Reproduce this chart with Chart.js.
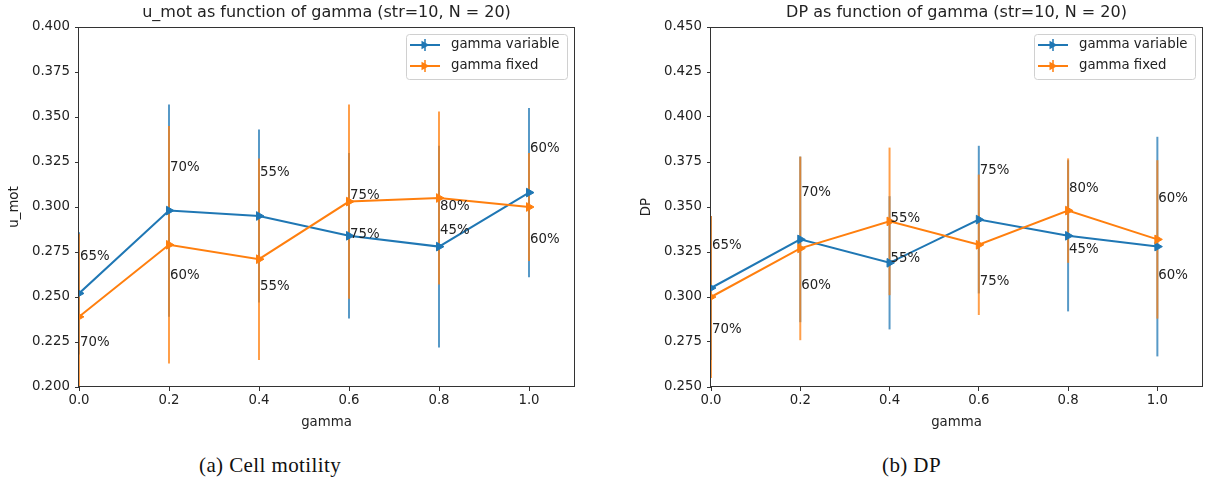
<!DOCTYPE html>
<html><head><meta charset="utf-8">
<script src="https://cdn.jsdelivr.net/npm/chart.js@4.4.1/dist/chart.umd.min.js"></script>
<style>
html,body{margin:0;padding:0;background:#fff;width:1214px;height:487px;overflow:hidden;}
.c{position:absolute;top:0;}
.cap{position:absolute;top:453px;font-family:"Liberation Serif","DejaVu Serif",serif;font-size:21px;letter-spacing:0.4px;color:#111;white-space:nowrap;line-height:24px;}
</style></head><body>
<div class="c" style="left:0px;"><canvas id="a" width="600" height="440"></canvas></div>
<div class="c" style="left:632px;"><canvas id="b" width="582" height="440"></canvas></div>
<div class="cap" style="left:199px">(a) Cell motility</div>
<div class="cap" style="left:882px">(b) DP</div>
<script>
// ---------- data ----------
const gammaValues = [0.0, 0.2, 0.4, 0.6, 0.8, 1.0];
const xTickValues = [0.0, 0.2, 0.4, 0.6, 0.8, 1.0];
const seriesNames = ['gamma variable', 'gamma fixed'];

const motVariable    = [0.252, 0.298, 0.295, 0.284, 0.278, 0.308];
const motVariableErr = [0.034, 0.059, 0.048, 0.046, 0.056, 0.047];
const motFixed       = [0.239, 0.279, 0.271, 0.303, 0.305, 0.300];
const motFixedErr    = [0.046, 0.066, 0.056, 0.054, 0.048, 0.030];
const motYTicks = [0.200, 0.225, 0.250, 0.275, 0.300, 0.325, 0.350, 0.375, 0.400];

const dpVariable    = [0.305, 0.332, 0.319, 0.343, 0.334, 0.328];
const dpVariableErr = [0.040, 0.046, 0.037, 0.041, 0.042, 0.061];
const dpFixed       = [0.300, 0.327, 0.342, 0.329, 0.348, 0.332];
const dpFixedErr    = [0.045, 0.051, 0.041, 0.039, 0.029, 0.044];
const dpYTicks = [0.250, 0.275, 0.300, 0.325, 0.350, 0.375, 0.400, 0.425, 0.450];

// percentage annotations (text and the data y at which they sit)
const motPctUpper  = ['65%', '70%', '55%', '75%', '80%', '60%'];
const motPctUpperY = [0.2724, 0.3220, 0.3193, 0.3063, 0.3002, 0.3326];
const motPctLower  = ['70%', '60%', '55%', '75%', '45%', '60%'];
const motPctLowerY = [0.2246, 0.2622, 0.2557, 0.2848, 0.2872, 0.2819];

const dpPctUpper  = ['65%', '70%', '55%', '75%', '80%', '60%'];
const dpPctUpperY = [0.3285, 0.3580, 0.3437, 0.3700, 0.3600, 0.3546];
const dpPctLower  = ['70%', '60%', '55%', '75%', '45%', '60%'];
const dpPctLowerY = [0.2817, 0.3063, 0.3211, 0.3085, 0.3265, 0.3122];

// ---------- styling ----------
const BLUE = '#1f77b4', ORANGE = '#ff7f0e';
const FONT = '"DejaVu Sans", sans-serif';
const TXT = '#222222';
const AX = '#333333';

function makeChart(id, o) {
  const ctxEl = document.getElementById(id);
  const colors = [BLUE, ORANGE];
  const vals = [o.varVals, o.fixVals];
  const errs = [o.varErr, o.fixErr];

  const deco = {
    id: 'deco',
    beforeDatasetsDraw(chart) {
      const {ctx, chartArea: ca, scales: {x, y}} = chart;
      ctx.save();
      ctx.beginPath();
      ctx.rect(ca.left, ca.top, ca.right - ca.left, ca.bottom - ca.top);
      ctx.clip();
      ctx.lineWidth = 2;
      ctx.globalAlpha = 0.75;
      for (let s = 0; s < 2; s++) {
        ctx.strokeStyle = colors[s];
        gammaValues.forEach((g, i) => {
          const px = x.getPixelForValue(g);
          ctx.beginPath();
          ctx.moveTo(px, y.getPixelForValue(vals[s][i] + errs[s][i]));
          ctx.lineTo(px, y.getPixelForValue(vals[s][i] - errs[s][i]));
          ctx.stroke();
        });
      }
      ctx.restore();
    },
    afterDatasetsDraw(chart) {
      const {ctx, chartArea: ca, scales: {x, y}} = chart;
      ctx.save();
      // frame (spines)
      ctx.strokeStyle = AX;
      ctx.lineWidth = 1;
      ctx.strokeRect(Math.round(ca.left) - 0.5, Math.round(ca.top) + 0.5,
                     Math.round(ca.right - ca.left) + 1, Math.round(ca.bottom - ca.top) - 1);
      // annotations
      ctx.fillStyle = TXT;
      ctx.font = '13.3px ' + FONT;
      ctx.textAlign = 'left';
      ctx.textBaseline = 'middle';
      gammaValues.forEach((g, i) => {
        const px = x.getPixelForValue(g) + 1;
        ctx.fillText(o.upper[i], px, y.getPixelForValue(o.upperY[i]));
        ctx.fillText(o.lower[i], px, y.getPixelForValue(o.lowerY[i]));
      });
      // title
      ctx.font = '16px ' + FONT;
      ctx.textAlign = 'center';
      ctx.fillText(o.title, (ca.left + ca.right) / 2, 13);
      // legend
      const w = 161, h = 45;
      const lx = ca.right - 7 - w, ly = ca.top + 7;
      ctx.beginPath();
      ctx.roundRect(lx + 0.5, ly + 0.5, w, h, 3);
      ctx.fillStyle = 'rgba(255,255,255,0.8)';
      ctx.fill();
      ctx.strokeStyle = '#d0d0d0';
      ctx.stroke();
      chart.data.datasets.forEach((ds, i) => {
        const ry = ly + 11 + i * 21;
        const c = ds.borderColor;
        ctx.strokeStyle = c;
        ctx.lineWidth = 2;
        ctx.beginPath();
        ctx.moveTo(lx + 4, ry); ctx.lineTo(lx + 34, ry); ctx.stroke();
        ctx.globalAlpha = 0.75;
        ctx.beginPath();
        ctx.moveTo(lx + 19, ry - 6); ctx.lineTo(lx + 19, ry + 6); ctx.stroke();
        ctx.globalAlpha = 1;
        ctx.fillStyle = c;
        ctx.beginPath();
        ctx.moveTo(lx + 23.5, ry); ctx.lineTo(lx + 15.5, ry - 4.3); ctx.lineTo(lx + 15.5, ry + 4.3);
        ctx.closePath(); ctx.fill();
        ctx.fillStyle = TXT;
        ctx.font = '13.3px ' + FONT;
        ctx.textAlign = 'left';
        ctx.fillText(ds.label, lx + 45, ry);
      });
      ctx.restore();
    }
  };

  const mkDs = (label, arr, color, order) => ({
    label,
    data: gammaValues.map((g, i) => ({x: g, y: arr[i]})),
    borderColor: color,
    backgroundColor: color,
    pointBackgroundColor: color,
    pointBorderColor: color,
    borderWidth: 2,
    pointStyle: 'triangle',
    rotation: 90,
    pointRadius: 5,
    pointBorderWidth: 1,
    tension: 0,
    clip: 0,
    order
  });

  return new Chart(ctxEl, {
    type: 'line',
    data: {
      datasets: [
        mkDs(seriesNames[0], o.varVals, BLUE, 1),
        mkDs(seriesNames[1], o.fixVals, ORANGE, 0)
      ]
    },
    options: {
      responsive: false,
      animation: false,
      events: [],
      devicePixelRatio: 1,
      layout: {padding: {top: 27, right: o.padRight, bottom: 0, left: 0}},
      plugins: {legend: {display: false}, tooltip: {enabled: false}, title: {display: false}},
      scales: {
        x: {
          type: 'linear', min: 0, max: 1.1,
          afterBuildTicks: s => { s.ticks = xTickValues.map(v => ({value: v})); },
          afterFit: s => { s.height = 53; },
          ticks: {callback: v => v.toFixed(1), color: TXT, font: {family: FONT, size: 13.3}, padding: 2, maxRotation: 0, autoSkip: false},
          grid: {display: true, drawOnChartArea: false, drawTicks: true, tickLength: 4, tickColor: AX, tickWidth: 1},
          border: {display: false},
          title: {display: true, text: 'gamma', color: TXT, font: {family: FONT, size: 13.3}, padding: {top: 0, bottom: 9}}
        },
        y: {
          type: 'linear', min: o.yMin, max: o.yMax,
          afterBuildTicks: s => { s.ticks = o.yTicks.map(v => ({value: v})); },
          afterFit: s => { s.width = 79; },
          ticks: {callback: v => v.toFixed(3), color: TXT, font: {family: FONT, size: 13.3}, padding: 5, autoSkip: false},
          grid: {display: true, drawOnChartArea: false, drawTicks: true, tickLength: 4, tickColor: AX, tickWidth: 1},
          border: {display: false},
          title: {display: true, text: o.yTitle, color: TXT, font: {family: FONT, size: 13.3}, padding: {top: 7, bottom: 0}}
        }
      }
    },
    plugins: [deco]
  });
}

makeChart('a', {
  title: 'u_mot as function of gamma (str=10, N = 20)', yTitle: 'u_mot',
  yMin: 0.2, yMax: 0.4, yTicks: motYTicks, padRight: 26,
  varVals: motVariable, varErr: motVariableErr, fixVals: motFixed, fixErr: motFixedErr,
  upper: motPctUpper, upperY: motPctUpperY, lower: motPctLower, lowerY: motPctLowerY
});
makeChart('b', {
  title: 'DP as function of gamma (str=10, N = 20)', yTitle: 'DP',
  yMin: 0.25, yMax: 0.45, yTicks: dpYTicks, padRight: 12,
  varVals: dpVariable, varErr: dpVariableErr, fixVals: dpFixed, fixErr: dpFixedErr,
  upper: dpPctUpper, upperY: dpPctUpperY, lower: dpPctLower, lowerY: dpPctLowerY
});
</script>
</body></html>
